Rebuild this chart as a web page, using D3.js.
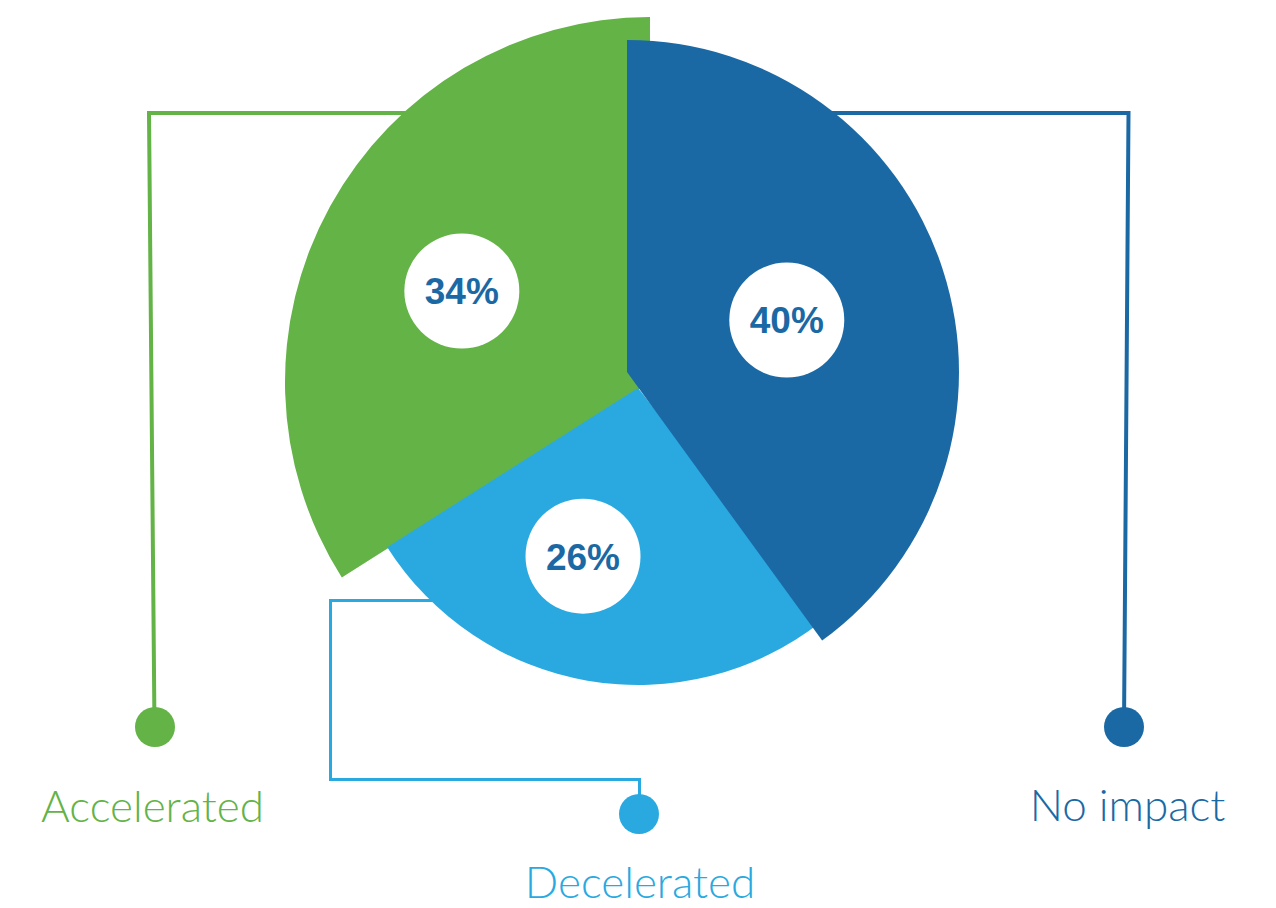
<!DOCTYPE html>
<html>
<head>
<meta charset="utf-8">
<script src="https://cdn.jsdelivr.net/npm/d3@7"></script>
<style>
  html, body { margin: 0; padding: 0; background: #ffffff; }
  svg { display: block; }
</style>
</head>
<body>
<svg id="chart" width="1276" height="908"></svg>
<script>
// ---- data ----
const categories = ["No impact", "Decelerated", "Accelerated"];
const values = [40, 26, 34];
const valueLabels = ["40%", "26%", "34%"];

// ---- styles / layout ----
const colors = ["#1b69a4", "#29a9e0", "#63b347"];
const labelTextColor = "#1b69a4";
// each slice has its own center and radius
const sliceCenters = [[627, 372], [638, 388], [650, 382]];
const sliceRadii = [332, 297, 365];
const startBleed = [0, 2, 0]; // degrees tucked under the previous slice
const labelRadii = [168, 177, 209];
const labelAngleShift = [0, 7.3, -3]; // degrees
const bubbleR = 57.5;
// legend dots & leader lines
const dots = [[1124, 727], [639, 814], [155, 727]];
const leaders = [
  [[820, 113], [1128.5, 113], [1124, 727]],
  [[440, 600.5], [330.5, 600.5], [330.5, 779.5], [639.5, 779.5], [639.5, 814]],
  [[420, 113], [149, 113], [154.5, 727]]
];
const leaderWidths = [4, 3, 4];
const textPos = [[1127.5, 821], [640, 898], [152.5, 822]];

const svg = d3.select("#chart");

const pie = d3.pie().sort(null).value(d => d)
  .startAngle(0).endAngle(2 * Math.PI);
const arcsData = pie(values);

// leader lines (behind pie)
const line = d3.line();
svg.append("g").selectAll("path")
  .data(leaders)
  .join("path")
  .attr("d", d => line(d))
  .attr("fill", "none")
  .attr("stroke", (d, i) => colors[i])
  .attr("stroke-width", (d, i) => leaderWidths[i])
  .attr("stroke-linejoin", "miter")
  .attr("stroke-linecap", "square");

// slices: draw green first, then light blue, then dark blue on top
const order = [2, 1, 0];
const gPie = svg.append("g");
order.forEach(i => {
  const a = d3.arc().innerRadius(0).outerRadius(sliceRadii[i]);
  const d = Object.assign({}, arcsData[i], {
    startAngle: arcsData[i].startAngle - startBleed[i] * Math.PI / 180
  });
  gPie.append("path")
    .attr("transform", `translate(${sliceCenters[i][0]},${sliceCenters[i][1]})`)
    .attr("d", a(d))
    .attr("fill", colors[i]);
});

// value bubbles
arcsData.forEach((d, i) => {
  const mid = (d.startAngle + d.endAngle) / 2 + labelAngleShift[i] * Math.PI / 180;
  const cx = sliceCenters[i][0] + labelRadii[i] * Math.sin(mid);
  const cy = sliceCenters[i][1] - labelRadii[i] * Math.cos(mid);
  svg.append("circle").attr("cx", cx).attr("cy", cy).attr("r", bubbleR).attr("fill", "#ffffff");
  svg.append("text")
    .attr("x", cx).attr("y", cy)
    .attr("text-anchor", "middle")
    .attr("dy", "0.36em")
    .attr("font-family", "'Liberation Sans', Arial, sans-serif")
    .attr("font-weight", "bold")
    .attr("font-size", 37)
    .attr("fill", labelTextColor)
    .text(valueLabels[i]);
});

// legend dots
svg.append("g").selectAll("circle")
  .data(dots)
  .join("circle")
  .attr("cx", d => d[0]).attr("cy", d => d[1]).attr("r", 20)
  .attr("fill", (d, i) => colors[i]);

// category texts
categories.forEach((c, i) => {
  svg.append("text")
    .attr("x", textPos[i][0]).attr("y", textPos[i][1])
    .attr("text-anchor", "middle")
    .attr("font-family", "Lato, 'Open Sans', sans-serif")
    .attr("font-weight", 300)
    .attr("font-size", 44)
    .attr("fill", colors[i])
    .text(c);
});
</script>
</body>
</html>
